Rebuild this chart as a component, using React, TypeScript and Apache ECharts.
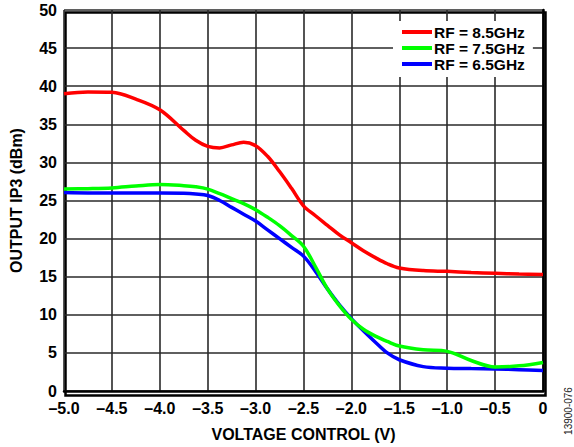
import React, { useEffect, useRef } from "react";
import * as echarts from "echarts";

const voltage = [-5, -4.75, -4.5, -4.25, -4, -3.75, -3.625, -3.5, -3.375, -3.25, -3.125, -3, -2.875, -2.75, -2.625, -2.5, -2.375, -2.25, -2.125, -2, -1.875, -1.75, -1.625, -1.5, -1.25, -1, -0.75, -0.5, -0.25, 0];

const ip3At85 = [39.0, 39.25, 39.2, 38.3, 36.9, 34.2, 32.9, 32.1, 31.9, 32.3, 32.65, 32.2, 30.8, 28.8, 26.6, 24.3, 23.0, 21.75, 20.5, 19.45, 18.4, 17.5, 16.7, 16.15, 15.8, 15.7, 15.55, 15.45, 15.35, 15.3];
const ip3At75 = [26.5, 26.55, 26.65, 26.9, 27.1, 26.95, 26.8, 26.5, 25.9, 25.25, 24.6, 23.8, 22.8, 21.7, 20.4, 19.0, 16.3, 13.4, 11.2, 9.4, 8.1, 7.2, 6.5, 5.9, 5.4, 5.2, 4.0, 3.15, 3.3, 3.75];
const ip3At65 = [26.05, 26.0, 26.0, 26.0, 26.0, 25.95, 25.85, 25.65, 25.0, 24.1, 23.2, 22.3, 21.15, 20.0, 18.85, 17.7, 15.7, 13.4, 11.3, 9.5, 7.9, 6.4, 5.0, 4.1, 3.2, 3.0, 2.95, 2.9, 2.8, 2.7];

const seriesNames = ["RF = 8.5GHz", "RF = 7.5GHz", "RF = 6.5GHz"];

const FONT = '"Liberation Sans", Arial, Helvetica, sans-serif';

function pairs(xs: number[], ys: number[]) {
  return xs.map((x, i) => [x, ys[i]]);
}

export default function App() {
  const ref = useRef<HTMLDivElement>(null);
  useEffect(() => {
    if (!ref.current) return;
    const chart = echarts.init(ref.current, null, { renderer: "svg" });
    const lineSeries = (name: string, color: string, data: number[][]) => ({
      name,
      type: "line",
      data,
      smooth: 0.35,
      symbol: "none",
      lineStyle: { color, width: 3.5 },
      itemStyle: { color },
    });
    chart.setOption({
      animation: false,
      backgroundColor: "#ffffff",
      grid: { left: 63, right: 31, top: 10, bottom: 54, containLabel: false },
      legend: {
        data: seriesNames,
        orient: "vertical",
        left: 393,
        top: 21,
        backgroundColor: "#ffffff",
        padding: [3, 8, 5, 9],
        itemGap: 0,
        itemWidth: 30,
        itemHeight: 4,
        icon: "rect",
        textStyle: { fontFamily: FONT, fontWeight: "bold", fontSize: 15.5, color: "#000", lineHeight: 16, padding: [0, 0, 0, -3] },
      },
      xAxis: {
        type: "value",
        min: -5,
        max: 0,
        interval: 0.5,
        name: "VOLTAGE CONTROL (V)",
        nameLocation: "middle",
        nameGap: 35,
        nameTextStyle: { fontFamily: FONT, fontWeight: "bold", fontSize: 16, color: "#000" },
        axisLine: { show: true, onZero: false, lineStyle: { color: "#000", width: 2.5 } },
        axisTick: { show: false },
        axisLabel: {
          margin: 9,
          fontFamily: FONT,
          fontWeight: "bold",
          fontSize: 16,
          color: "#000",
          formatter: (v: number) => (v === 0 ? "0" : v.toFixed(1).replace("-", "\u2013")),
        },
        splitLine: { show: true, lineStyle: { color: "#2a2a2a", width: 1.6 } },
      },
      yAxis: {
        type: "value",
        min: 0,
        max: 50,
        interval: 5,
        name: "OUTPUT IP3 (dBm)",
        nameLocation: "middle",
        nameGap: 40,
        nameRotate: 90,
        nameTextStyle: { fontFamily: FONT, fontWeight: "bold", fontSize: 16, color: "#000" },
        axisLine: { show: true, lineStyle: { color: "#000", width: 2.5 } },
        axisTick: { show: false },
        axisLabel: { margin: 7, fontFamily: FONT, fontWeight: "bold", fontSize: 16, color: "#000" },
        splitLine: { show: true, lineStyle: { color: "#2a2a2a", width: 1.6 } },
      },
      graphic: [
        {
          type: "rect",
          left: 63,
          top: 10,
          shape: { width: 480, height: 383 },
          style: { fill: "none", stroke: "#000", lineWidth: 2.5 },
          silent: true,
          z: -1,
        },
        {
          type: "text",
          x: 568,
          y: 411,
          rotation: Math.PI / 2,
          style: {
            text: "13900-076",
            fontFamily: FONT,
            fontSize: 10,
            fill: "#222",
            textAlign: "center",
            textVerticalAlign: "middle",
          },
        },
      ],
      series: [
        lineSeries(seriesNames[2], "#0000ff", pairs(voltage, ip3At65)),
        lineSeries(seriesNames[1], "#00ff00", pairs(voltage, ip3At75)),
        lineSeries(seriesNames[0], "#ff0000", pairs(voltage, ip3At85)),
      ],
    });
    return () => chart.dispose();
  }, []);
  return (
    <div
      ref={ref}
      style={{ position: "fixed", left: 0, top: 0, width: 574, height: 447, background: "#fff" }}
    />
  );
}
